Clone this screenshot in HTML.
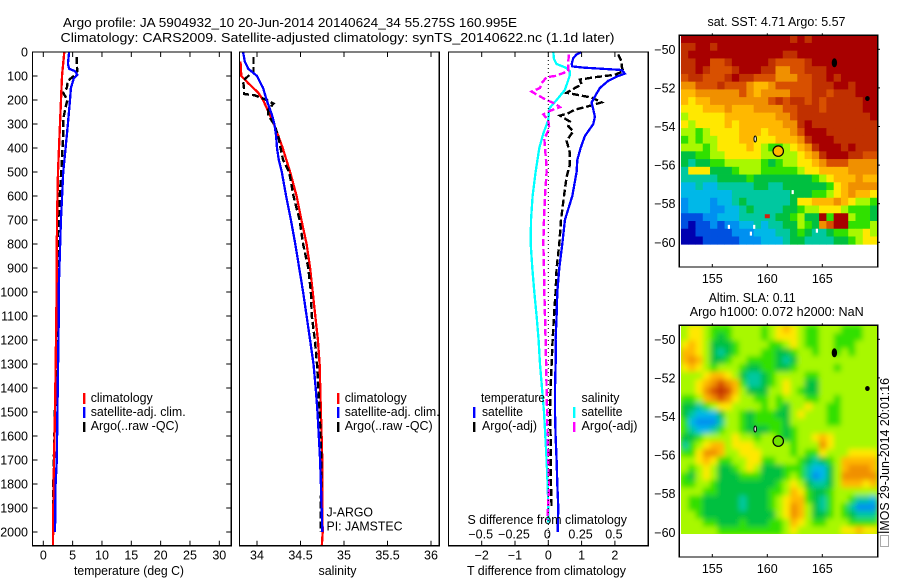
<!DOCTYPE html>
<html lang="en">
<head>
<meta charset="utf-8">
<title>Argo profile 5904932_10</title>
<style>
html,body{margin:0;padding:0;background:#fff;width:900px;height:580px;overflow:hidden}
svg{display:block}
text{font-family:"Liberation Sans",sans-serif;font-size:13px;fill:#000}
#ticks text{font-size:12.5px}
.frame{fill:none;stroke:#000;stroke-width:1.4;shape-rendering:crispEdges}
polyline{shape-rendering:crispEdges}
</style>
</head>
<body>
<svg id="chart" width="900" height="580" viewBox="0 0 900 580" xmlns="http://www.w3.org/2000/svg">
<defs>
<clipPath id="slaClip"><rect x="681" y="325.3" width="196.7" height="208.7"/></clipPath>
<filter id="slaBlur" x="-5%" y="-5%" width="110%" height="110%"><feGaussianBlur stdDeviation="2.6"/></filter>
</defs>
<rect width="900" height="580" fill="#fff"/>
<text x="63" y="27" textLength="454" lengthAdjust="spacingAndGlyphs">Argo profile: JA 5904932_10 20-Jun-2014 20140624_34 55.275S 160.995E</text>
<text x="60.5" y="42" textLength="554" lengthAdjust="spacingAndGlyphs">Climatology: CARS2009. Satellite-adjusted climatology: synTS_20140622.nc (1.1d later)</text>
<g id="sstHeat"></g>
<g clip-path="url(#slaClip)"><rect x="681" y="325.3" width="196.7" height="208.7" fill="#a8f800"/><g id="slaHeat" filter="url(#slaBlur)"></g></g>
<g id="marks"></g>
<rect class="frame" x="32.5" y="52" width="198.7" height="493.7"/>
<rect class="frame" x="239.5" y="52" width="199.7" height="493.7"/>
<rect class="frame" x="448.5" y="52" width="199.8" height="493.7"/>
<rect class="frame" x="679.3" y="35.3" width="198.4" height="231.7"/>
<rect class="frame" x="679.3" y="325.3" width="198.4" height="231.7"/>
<g id="ticks"></g>

<text x="74" y="575" textLength="110" lengthAdjust="spacingAndGlyphs">temperature (deg C)</text>
<text x="318.5" y="575" textLength="38" lengthAdjust="spacingAndGlyphs">salinity</text>
<text x="467" y="575" textLength="159" lengthAdjust="spacingAndGlyphs">T difference from climatology</text>
<text x="467.5" y="524" textLength="159.5" lengthAdjust="spacingAndGlyphs">S difference from climatology</text>

<g>
<rect x="83" y="393" width="2.4" height="11" fill="#f00"/>
<rect x="83" y="407" width="2.4" height="11" fill="#00f"/>
<rect x="83" y="422" width="2.4" height="10" fill="#000"/>
<text x="90.7" y="402" textLength="62" lengthAdjust="spacingAndGlyphs">climatology</text>
<text x="90.7" y="416" textLength="95" lengthAdjust="spacingAndGlyphs">satellite-adj. clim.</text>
<text x="90.7" y="430" textLength="88" lengthAdjust="spacingAndGlyphs">Argo(..raw -QC)</text>
</g>
<g>
<rect x="337" y="393" width="2.4" height="11" fill="#f00"/>
<rect x="337" y="407" width="2.4" height="11" fill="#00f"/>
<rect x="337" y="422" width="2.4" height="10" fill="#000"/>
<text x="344.7" y="402" textLength="62" lengthAdjust="spacingAndGlyphs">climatology</text>
<text x="344.7" y="416" textLength="95" lengthAdjust="spacingAndGlyphs">satellite-adj. clim.</text>
<text x="344.7" y="430" textLength="88" lengthAdjust="spacingAndGlyphs">Argo(..raw -QC)</text>
<text x="326.5" y="516.5" textLength="46.5" lengthAdjust="spacingAndGlyphs">J-ARGO</text>
<text x="326.5" y="530.5" textLength="76" lengthAdjust="spacingAndGlyphs">PI: JAMSTEC</text>
</g>
<g>
<text x="481" y="402" textLength="64" lengthAdjust="spacingAndGlyphs">temperature</text>
<rect x="473" y="407" width="2.4" height="11" fill="#00f"/>
<rect x="473" y="422" width="2.4" height="10" fill="#000"/>
<text x="482" y="416" textLength="41" lengthAdjust="spacingAndGlyphs">satellite</text>
<text x="482" y="430" textLength="55" lengthAdjust="spacingAndGlyphs">Argo(-adj)</text>
<text x="581.5" y="402" textLength="38" lengthAdjust="spacingAndGlyphs">salinity</text>
<rect x="573" y="407" width="2.4" height="11" fill="#0ff"/>
<rect x="573" y="422" width="2.4" height="10" fill="#f0f"/>
<text x="581.5" y="416" textLength="41" lengthAdjust="spacingAndGlyphs">satellite</text>
<text x="581.5" y="430" textLength="56" lengthAdjust="spacingAndGlyphs">Argo(-adj)</text>
</g>

<text x="707.5" y="26" textLength="138" lengthAdjust="spacingAndGlyphs">sat. SST: 4.71 Argo: 5.57</text>
<text x="708.7" y="302" textLength="87" lengthAdjust="spacingAndGlyphs">Altim. SLA: 0.11</text>
<text x="689.7" y="316" textLength="174" lengthAdjust="spacingAndGlyphs">Argo h1000: 0.072 h2000: NaN</text>
<rect x="880.5" y="535.5" width="8" height="11" fill="#fff" stroke="#555" stroke-width="1" stroke-dasharray="1,1"/>
<text transform="translate(889 534) rotate(-90)" textLength="156" lengthAdjust="spacingAndGlyphs">IMOS 29-Jun-2014 20:01:16</text>
</svg>
<script>
// ---- tick labels ----
var depthTicks = [0,100,200,300,400,500,600,700,800,900,1000,1100,1200,1300,1400,1500,1600,1700,1800,1900,2000];
var tempTicks = [0,5,10,15,20,25,30];
var salTicks = [34,34.5,35,35.5,36];
var tDiffTicks = [-2,-1,0,1,2];
var sDiffTicks = [-0.5,-0.25,0,0.25,0.5];
var lonTicks = [155,160,165];
var latTicks = [-50,-52,-54,-56,-58,-60];

// ---- temperature profiles (deg C) ----
var tempClimDepth = [0,100,200,300,400,500,700,1000,1200,1500,1800,2060];
var tempClimValues = [3.58,3.18,3.01,2.84,2.67,2.5,2.33,2.27,2.16,1.99,1.76,1.65];
var tempSatDepth = [0,50,70,80,95,110,150,200,300,400,500,600,700,900,1000,1150,1500,1700,1800,2000];
var tempSatValues = [4.4,4.2,4.4,5.4,5.8,5.2,4.7,4.55,4.2,3.8,3.4,3.2,3.0,2.75,2.6,2.6,2.4,2.3,2.1,2.0];
var tempArgoDepth = [20,50,80,100,120,150,170,200,230,280,350,500,700,900,1000,1300,1800,1950];
var tempArgoValues = [5.7,5.7,5.8,5.2,4.2,4.0,3.4,4.1,3.8,3.4,3.4,3.05,2.55,2.4,2.4,2.16,1.7,1.7];

// ---- salinity profiles (PSU) ----
var salClimDepth = [40,100,130,170,200,240,300,400,500,600,700,800,900,1000,1100,1200,1300,1500,1700,1900,2000,2060];
var salClimValues = [33.81,33.82,33.9,34.015,34.07,34.12,34.195,34.295,34.38,34.455,34.51,34.57,34.61,34.64,34.67,34.7,34.72,34.735,34.75,34.75,34.755,34.745];
var salSatDepth = [0,40,70,100,150,200,260,300,350,400,450,500,600,700,800,900,1000,1100,1200,1300,1400,1500,1600,1700,1800,2000];
var salSatValues = [33.84,33.86,33.9,34.0,34.07,34.11,34.17,34.2,34.22,34.23,34.25,34.285,34.335,34.39,34.44,34.485,34.53,34.57,34.61,34.65,34.675,34.695,34.71,34.725,34.735,34.75];
var salArgoDepth = [20,80,100,120,150,175,180,200,215,240,265,300,350,400,450,500,600,700,800,900,1000,1100,1200,1300,1500,1700,2000];
var salArgoValues = [33.96,33.96,33.9,33.84,33.85,33.85,33.97,34.11,34.19,34.13,34.13,34.195,34.245,34.27,34.3,34.37,34.42,34.49,34.53,34.59,34.62,34.63,34.665,34.69,34.72,34.74,34.73];

// ---- differences from climatology ----
var dTSatDepth = [0,10,25,40,50,60,65,75,90,100,120,150,180,210,240,270,300,350,400,450,500,600,700,800,900,1000,1100,1200,1300,1400,1500,1600,1700,1800,1900,2000];
var dTSatValues = [1.0,0.85,0.75,0.72,0.7,0.72,1.05,2.2,2.3,2.1,1.8,1.55,1.42,1.3,1.35,1.4,1.35,1.1,0.97,0.87,0.85,0.72,0.5,0.42,0.33,0.27,0.25,0.22,0.22,0.2,0.2,0.22,0.25,0.27,0.3,0.28];
var dTArgoDepth = [10,40,60,80,95,105,115,135,150,170,190,210,230,240,255,265,290,310,330,370,420,470,520,600,700,800,900,1000,1100,1200,1300,1400,1500,1600,1700,1800,1900];
var dTArgoValues = [2.1,2.2,2.2,2.25,2.0,1.4,0.95,1.0,0.8,0.55,1.3,1.6,1.1,0.8,0.6,0.35,0.65,0.6,0.75,0.55,0.65,0.65,0.55,0.47,0.38,0.33,0.25,0.22,0.17,0.13,0.1,0.07,0.05,0.07,0.07,0.08,0.1];
var dSSatDepth = [0,30,50,65,80,100,158,200,235,283,340,400,500,600,700,800,900,1000,1100,1200,1300,1400,1500,1600,1700,1800,1900,1960];
var dSSatValues = [0.0375,0.0425,0.0625,0.13,0.1625,0.16,0.125,0.0625,0.0075,0,-0.0375,-0.0675,-0.095,-0.1175,-0.13,-0.1325,-0.12,-0.105,-0.0875,-0.0725,-0.0625,-0.0475,-0.0325,-0.0225,-0.0125,-0.005,0,0];
var dSArgoDepth = [10,40,80,100,105,130,150,165,185,200,215,230,245,260,285,320,360,400,450,500,600,700,800,900,1000,1100,1200,1400,1600,1700,1800,1950];
var dSArgoValues = [0.155,0.15,0.15,0.05,-0.0125,-0.05,-0.0625,-0.125,-0.0625,-0.0125,0.05,0.0875,0.0125,-0.0375,0,0.0075,-0.03,-0.025,-0.0175,-0.0125,-0.025,-0.0325,-0.0375,-0.0325,-0.03,-0.025,-0.02,-0.0125,-0.005,0,0.0075,-0.0075];

// ---- map fields (colour level, one row per latitude band) ----
var sstRows = [
[13,13,13,13,13,13,13,13,13,13,13,13,13,13,13,12,13,12,13,13,13,13,13,13,13,13,13],
[12,12,13,13,12,13,13,13,13,13,13,13,13,13,13,13,13,13,13,13,13,13,13,13,13,13,13],
[12,13,13,13,13,13,13,13,13,13,13,13,13,13,12,12,13,13,13,13,13,13,13,13,13,13,13],
[12,12,13,13,11,11,12,13,13,13,13,13,12,11,11,11,11,12,13,13,13,13,13,13,13,13,13],
[12,12,13,12,11,11,11,12,13,13,13,12,12,10,10,11,11,12,12,12,13,13,13,13,13,13,13],
[11,12,12,11,11,11,12,13,12,12,11,11,11,10,10,10,11,11,12,12,13,12,13,13,13,13,13],
[10,10,11,11,11,12,11,11,11,10,9,9,10,11,11,11,11,11,12,12,12,13,13,12,13,13,13],
[9,9,10,10,10,10,10,10,11,10,9,10,10,10,10,11,11,11,12,12,11,12,12,12,13,13,13],
[9,8,9,9,10,10,10,10,10,10,10,10,11,12,11,12,12,11,12,11,12,12,12,12,12,13,13],
[8,8,8,9,9,9,10,9,9,9,10,10,10,10,11,11,12,12,12,11,12,12,12,12,12,13,13],
[7,8,8,8,8,8,9,9,9,9,9,9,9,10,10,11,12,12,12,12,12,12,12,12,12,12,13],
[8,7,8,8,8,8,9,8,9,9,9,9,9,9,10,10,12,13,12,12,12,12,12,12,12,12,12],
[7,7,6,7,8,8,8,8,9,9,9,8,9,9,9,10,11,13,13,13,12,12,12,12,12,12,12],
[6,7,6,7,7,8,8,8,9,9,8,8,8,9,9,9,10,12,13,13,13,12,12,12,12,12,12],
[7,7,7,6,7,8,8,8,8,9,8,7,6,6,7,8,9,10,12,13,13,13,12,13,12,12,12],
[5,5,6,6,7,7,8,8,8,8,8,7,7,7,7,7,8,9,10,12,13,13,13,12,12,11,11],
[5,4,5,5,6,6,7,7,7,7,7,6,5,6,7,7,8,8,9,10,11,11,11,10,10,10,10],
[4,8,8,8,5,5,5,6,7,7,7,6,6,6,6,6,7,8,8,9,9,9,9,10,10,10,10],
[4,4,4,4,4,5,5,5,5,6,5,5,5,5,5,5,5,5,6,7,8,9,9,9,10,9,9],
[3,3,4,3,3,4,4,4,4,4,5,5,4,4,5,5,5,5,5,5,6,8,9,10,10,10,10],
[3,3,3,3,3,3,3,4,4,4,4,4,4,4,4,5,5,5,6,6,7,8,9,10,9,9,8],
[2,3,3,3,2,3,3,4,5,4,4,4,4,4,4,5,8,8,9,9,9,10,9,8,7,7,6],
[2,3,3,3,2,2,3,3,4,5,4,4,4,4,5,5,6,7,7,8,8,8,7,6,6,6,5],
[1,1,1,2,2,3,3,3,4,4,4,4,4,5,5,6,7,5,5,13,6,13,13,7,6,6,5],
[1,0,1,1,2,1,2,2,3,3,4,3,4,4,5,5,7,6,5,10,11,13,13,6,6,6,7],
[0,0,1,1,1,1,1,2,2,2,3,3,3,4,4,5,6,5,4,4,5,6,6,7,7,8,7],
[0,0,0,1,1,1,1,1,2,2,2,3,3,3,4,5,5,4,4,4,4,5,5,6,7,8,8]
];
var slaRows = [
[7,8,8,7,6,6,6,7,7,7,7,6,7,8,9,8,7,6,6,7,7,7,6,6,6,7,7],
[7,8,8,7,6,5,6,7,7,7,7,6,7,8,8,8,7,6,6,7,7,6,6,6,6,7,7],
[8,9,8,7,5,5,5,6,7,7,7,7,6,6,7,8,7,6,6,7,7,6,6,6,7,7,7],
[9,9,8,7,5,4,5,6,7,7,7,6,6,5,5,6,7,7,6,7,7,6,7,6,7,7,7],
[9,10,9,7,5,5,6,7,7,6,6,6,6,5,4,5,7,7,7,7,7,7,7,7,7,7,7],
[8,9,8,7,6,7,7,7,6,5,5,6,6,5,5,6,7,7,7,7,7,6,7,7,7,7,7],
[7,7,7,8,9,9,8,7,5,4,4,5,6,7,7,7,7,6,6,7,7,7,7,7,7,7,7],
[7,7,8,9,10,11,10,9,6,4,4,5,6,7,8,7,7,5,5,7,7,7,7,7,7,7,7],
[7,7,8,10,11,12,11,9,7,5,5,5,7,7,8,7,6,5,5,7,7,7,7,7,7,7,7],
[6,6,7,9,10,11,10,8,7,7,6,6,7,6,7,7,7,6,6,7,7,6,7,7,7,7,7],
[5,5,4,6,7,8,8,7,7,7,7,6,7,6,5,7,7,8,7,7,6,6,7,7,7,7,7],
[5,4,3,3,3,5,7,7,6,5,6,6,6,5,5,7,8,7,7,7,6,6,7,7,7,7,7],
[6,3,2,2,2,4,7,7,6,5,6,6,6,6,5,7,7,7,7,7,6,6,7,7,7,7,7],
[6,4,3,3,4,6,7,7,6,5,5,5,6,6,5,6,7,7,7,7,7,7,7,7,7,7,7],
[5,5,6,7,7,7,7,8,7,7,6,7,7,6,5,6,7,7,8,9,8,7,7,7,7,7,7],
[4,6,7,8,9,9,7,8,8,8,7,7,7,7,7,6,7,7,7,10,8,7,7,7,7,7,7],
[6,6,8,10,10,9,7,7,8,8,8,7,7,7,7,6,7,6,6,8,7,7,7,8,8,8,8],
[7,7,8,9,8,6,6,7,7,8,8,6,6,7,7,7,6,5,4,5,6,7,9,9,9,9,9],
[7,6,7,8,7,5,5,6,7,8,7,5,5,5,6,6,6,4,3,3,5,7,9,10,10,10,9],
[6,5,7,8,7,5,5,5,6,6,6,5,5,5,6,7,6,4,2,3,5,7,10,10,10,10,10],
[6,6,7,7,6,5,5,5,5,5,5,5,5,6,7,8,7,5,4,4,5,7,9,9,9,8,9],
[7,7,7,6,6,5,5,5,5,5,5,5,6,6,7,9,8,6,5,5,6,7,7,7,7,7,7],
[7,6,6,5,5,5,5,5,4,5,5,5,6,7,8,9,9,6,5,4,6,7,7,6,4,4,3],
[7,6,6,5,5,5,5,5,4,5,5,5,6,7,8,10,9,7,5,4,6,7,6,4,2,2,2],
[7,7,6,5,5,5,5,5,5,5,5,5,5,7,8,10,9,7,5,5,6,7,6,5,4,4,4],
[7,7,7,6,6,5,5,5,6,5,5,5,6,6,7,9,8,7,6,6,7,7,7,6,6,6,6],
[7,7,7,7,7,6,6,6,6,6,6,6,6,6,7,8,7,7,7,7,7,7,8,8,9,8,8]
];
var sstMissingLon = [162.3,156.5,158.8,158.5,164.5];
var sstMissingLat = [-57.4,-59.2,-59.2,-59.55,-59.4];
var sstHotLon = [160];
var sstHotLat = [-58.65];
var floatLon = [160.995];
var floatLat = [-55.275];
var islandLon = [166.1,169.1,158.9];
var islandLat = [-50.7,-52.55,-54.65];
var colourLevels = ['#0000b0','#0050e0','#0090f0','#00b8e8','#00c8a0','#00c040','#30e000','#a8f800','#ffe800','#ffb800','#f09000','#d85000','#c03000','#a80000'];

// ---- axis functions ----
var SVGNS = 'http://www.w3.org/2000/svg';
function yD(d){return 52+d*0.24;}
function xTemp(t){return 43.3+t*5.867;}
function xSal(s){return 257+(s-34)*87;}
function xDT(t){return 548.3+t*33.3;}
function xDS(s){return 548.3+s*133.2;}
function lonX(l){return 767.3+(l-160)*11;}
function latY1(l){return 49.3+(-50-l)*19.3;}
function latY2(l){return 339.3+(-50-l)*19.3;}
function make(tag,attrs,parent){
  var e=document.createElementNS(SVGNS,tag);
  for(var k in attrs){e.setAttribute(k,attrs[k]);}
  parent.appendChild(e);
  return e;
}
var marks=document.getElementById('marks');
var tickGroup=document.getElementById('ticks');

function drawLine(depths,values,xf,colour,width,dash,name){
  var pts=[];
  for(var i=0;i<depths.length;i++){pts.push(xf(values[i]).toFixed(1)+','+yD(depths[i]).toFixed(1));}
  var attrs={points:pts.join(' '),fill:'none',stroke:colour,'stroke-width':width};
  if(dash){attrs['stroke-dasharray']=dash;}
  var line=make('polyline',attrs,marks);
  
  
}

drawLine(tempArgoDepth,tempArgoValues,xTemp,'#000',2.4,'7,3','temperature-argo-line');
drawLine(tempClimDepth,tempClimValues,xTemp,'#f00',2.3,null,'temperature-climatology-line');
drawLine(tempSatDepth,tempSatValues,xTemp,'#00f',2.3,null,'temperature-satellite-line');
drawLine(salClimDepth,salClimValues,xSal,'#f00',2.3,null,'salinity-climatology-line');
drawLine(salArgoDepth,salArgoValues,xSal,'#000',2.4,'7,3','salinity-argo-line');
drawLine(salSatDepth,salSatValues,xSal,'#00f',2.3,null,'salinity-satellite-line');
drawLine(dSSatDepth,dSSatValues,xDS,'#0ff',2.3,null,'s-difference-satellite-line');
drawLine(dSArgoDepth,dSArgoValues,xDS,'#f0f',2.4,'7,3','s-difference-argo-line');
drawLine(dTArgoDepth,dTArgoValues,xDT,'#000',2.4,'7,3','t-difference-argo-line');
drawLine(dTSatDepth,dTSatValues,xDT,'#00f',2.3,null,'t-difference-satellite-line');

var zeroLine=make('line',{x1:xDT(0),x2:xDT(0),y1:52,y2:545.7,stroke:'#000','stroke-width':1,'stroke-dasharray':'1,3'},marks);



// ---- ticks ----
function tickMark(x1,y1,x2,y2,name){
  var t=make('line',{x1:x1,y1:y1,x2:x2,y2:y2,stroke:'#000','stroke-width':1},tickGroup);
  
  
}
function tickLabel(x,y,str,anchor,name){
  var t=make('text',{x:x,y:y,'text-anchor':anchor},tickGroup);
  t.textContent=str;
  
  
}
function dashMinus(v){return String(v).replace('-','\u2212');}

depthTicks.forEach(function(d){
  var y=yD(d);
  tickMark(32.5,y,37.5,y,'depth-tick');
  tickMark(226.2,y,231.2,y,'depth-tick-right');
  tickLabel(28,y+4.5,String(d),'end','depth-tick-label');
});
tempTicks.forEach(function(v){
  var x=xTemp(v);
  tickMark(x,52,x,57,'temperature-tick-top');
  tickMark(x,545.7,x,540.7,'temperature-tick-bottom');
  tickLabel(x,559.5,String(v),'middle','temperature-tick-label');
});
salTicks.forEach(function(v){
  var x=xSal(v);
  tickMark(x,52,x,57,'salinity-tick-top');
  tickMark(x,545.7,x,540.7,'salinity-tick-bottom');
  tickLabel(x,559.5,String(v),'middle','salinity-tick-label');
});
tDiffTicks.forEach(function(v){
  var x=xDT(v);
  tickMark(x,52,x,57,'t-difference-tick-top');
  tickMark(x,545.7,x,540.7,'t-difference-tick-bottom');
  tickLabel(x,559.5,dashMinus(v),'middle','t-difference-tick-label');
});
sDiffTicks.forEach(function(v){
  tickLabel(xDS(v)-1,538.7,dashMinus(v),'middle','s-difference-tick-label');
});

// ---- maps ----
function drawField(rows,groupId,latY,prefix){
  var g=document.getElementById(groupId);
  var lonStep=17.85/27, latStep=10.83/27;
  rows.forEach(function(row,r){
    row.forEach(function(level,c){
      var lon=152.15+c*lonStep, lat=-49.27-r*latStep;
      var x=lonX(lon), y=latY(lat);
      var cell=make('rect',{x:x.toFixed(2),y:y.toFixed(2),width:(lonStep*11+0.4).toFixed(2),height:(latStep*19.3+0.4).toFixed(2),fill:colourLevels[level]},g);
      
      
    });
  });
}
drawField(sstRows,'sstHeat',latY1,'sst');
drawField(slaRows,'slaHeat',latY2,'sla');

sstMissingLon.forEach(function(lon,i){
  var s=make('rect',{x:lonX(lon)-1,y:latY1(sstMissingLat[i])-2,width:2.2,height:4,fill:'#fff'},marks);
  
  
});
sstHotLon.forEach(function(lon,i){
  var s=make('rect',{x:lonX(lon)-2.5,y:latY1(sstHotLat[i])-2,width:5,height:4,fill:'#d02010'},marks);
  
  
});
[latY1,latY2].forEach(function(latY,m){
  islandLon.forEach(function(lon,i){
    var rx=[2.2,1.8,1.2][i], ry=[4,2,3][i];
    var isl=make('ellipse',{cx:lonX(lon),cy:latY(islandLat[i]),rx:rx,ry:ry,fill:i===2?'#fff':'#000',stroke:'#000','stroke-width':1},marks);
    
    
  });
  var fillCol=m===0?'#ffb800':'#70e000';
  var c=make('circle',{cx:lonX(floatLon[0]),cy:latY(floatLat[0]),r:5.2,fill:fillCol,stroke:'#000','stroke-width':1.2},marks);
  
  
  var top=m===0?35.3:325.3, bottom=top+231.7, base=m===0?283:573;
  lonTicks.forEach(function(v){
    var x=lonX(v);
    tickMark(x,top-2,x,top,'map-longitude-tick-top');
    tickMark(x,bottom,x,bottom-3,'map-longitude-tick-bottom');
    tickLabel(x,base,String(v),'middle','map-longitude-tick-label');
  });
  latTicks.forEach(function(v){
    var y=latY(v);
    tickMark(877.7,y,880,y,'map-latitude-tick-right');
    tickLabel(675.5,y+4.5,dashMinus(v),'end','map-latitude-tick-label');
  });
});
</script>
</body>
</html>
